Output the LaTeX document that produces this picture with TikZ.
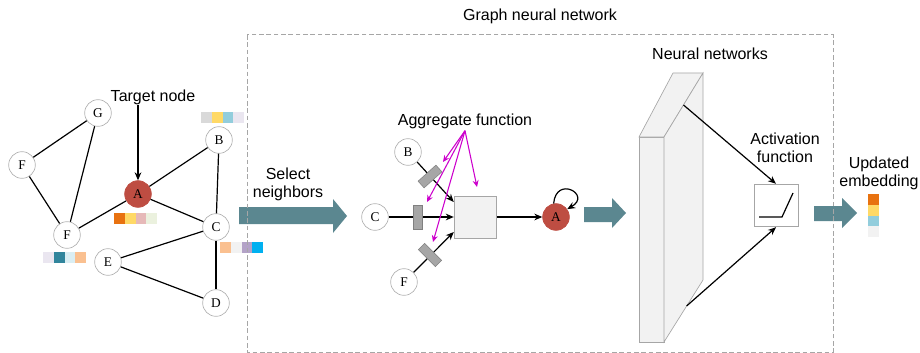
\documentclass[tikz,border=0pt]{standalone}
\usepackage{fontspec}
\setmainfont{Liberation Sans}
\newfontfamily\letterfont{Liberation Serif}
\usetikzlibrary{arrows.meta,calc}

\definecolor{nodered}{RGB}{190,77,66}
\definecolor{arrowteal}{RGB}{91,135,144}
\definecolor{aggmagenta}{RGB}{204,0,204}
\definecolor{blockgray}{RGB}{166,166,166}
\definecolor{paleface}{RGB}{242,242,242}
\definecolor{cellOrange}{RGB}{232,114,16}
\definecolor{cellYellow}{RGB}{255,217,102}
\definecolor{cellBlue}{RGB}{146,205,220}
\definecolor{cellGray}{RGB}{217,217,217}
\definecolor{cellLavender}{RGB}{234,230,240}
\definecolor{cellPink}{RGB}{230,185,184}
\definecolor{cellGreen}{RGB}{235,241,222}
\definecolor{cellTeal}{RGB}{49,133,156}
\definecolor{cellPaleBlue}{RGB}{218,238,243}
\definecolor{cellPeach}{RGB}{250,192,144}
\definecolor{cellOffWhite}{RGB}{242,242,242}
\definecolor{cellLilac}{RGB}{179,162,199}
\definecolor{cellSky}{RGB}{0,176,240}

\begin{document}
\begin{tikzpicture}[
        x=0.75pt, y=-0.75pt,
        >={Stealth[length=6pt,width=5pt]},
        graph_node/.style={
            circle,
            draw=gray!60,
            fill=white,
            line width=0.5pt,
            minimum size=20pt,
            inner sep=0pt,
            font=\letterfont\fontsize{10}{12}\selectfont
        },
        target_node/.style={graph_node, draw=nodered, fill=nodered},
        edge_line/.style={line width=0.9pt},
        flow_arrow/.style={->, line width=0.9pt},
        agg_arrow/.style={-{Stealth[length=5pt,width=4.5pt]}, aggmagenta, line width=0.8pt},
        weight_block/.style={
            rectangle,
            draw=gray,
            fill=blockgray,
            line width=0.4pt,
            minimum width=6.75pt,
            minimum height=18pt,
            inner sep=0pt
        },
        agg_box/.style={
            rectangle,
            draw=gray!70,
            fill=paleface,
            line width=0.6pt,
            minimum width=32pt,
            minimum height=31.5pt,
            inner sep=0pt
        },
        act_box/.style={agg_box, fill=white, minimum width=33pt, minimum height=32pt},
        slab_face/.style={draw=gray!70, fill=paleface, line width=0.5pt},
        fat_arrow/.style={fill=arrowteal},
        gnn_frame/.style={draw=gray!70, line width=0.75pt, dash pattern=on 3.5pt off 2pt},
        label_text/.style={font=\fontsize{12}{13.5}\selectfont, align=center, inner sep=0pt}
    ]

    \useasboundingbox (0,0) rectangle (920,353);

    % =================================================
    % INPUT GRAPH
    % =================================================

    \node[graph_node] (nG) at (98,113) {G};
    \node[graph_node] (nF1) at (22,165) {F};
    \node[target_node] (nA) at (138,194) {A};
    \node[graph_node] (nB) at (219,140) {B};
    \node[graph_node] (nF2) at (67,235) {F};
    \node[graph_node] (nC) at (216,227) {C};
    \node[graph_node] (nE) at (108,262) {E};
    \node[graph_node] (nD) at (216,303) {D};

    \draw[edge_line] (nG) -- (nF1);
    \draw[edge_line] (nG) -- (nF2);
    \draw[edge_line] (nF1) -- (nF2);
    \draw[edge_line] (nA) -- (nF2);
    \draw[edge_line] (nA) -- (nB);
    \draw[edge_line] (nA) -- (nC);
    \draw[edge_line] (nB) -- (nC);
    \draw[edge_line] (nC) -- (nE);
    \draw[edge_line] (nC) -- (nD);
    \draw[edge_line] (nE) -- (nD);

    \node[label_text] (target) at (153,97) {Target node};
    \draw[flow_arrow] (target.south -| nA) -- (nA);

    % Feature vectors
    \foreach \c [count=\i from 0] in {cellGray,cellYellow,cellBlue,cellLavender}
        \fill[\c] (201+10.75*\i,112) rectangle ++(10.75,11);
    \foreach \c [count=\i from 0] in {cellOrange,cellYellow,cellPink,cellGreen}
        \fill[\c] (114+10.75*\i,213) rectangle ++(10.75,10.5);
    \foreach \c [count=\i from 0] in {cellLavender,cellTeal,cellPaleBlue,cellPeach}
        \fill[\c] (43+10.75*\i,252) rectangle ++(10.75,10.5);
    \foreach \c [count=\i from 0] in {cellPeach,cellOffWhite,cellLilac,cellSky}
        \fill[\c] (220+10.75*\i,242) rectangle ++(10.75,10.5);

    % Select neighbors
    \fill[fat_arrow] (239,207) -- (333,207) -- (333,199) -- (347,216) -- (333,233) -- (333,224) -- (239,224) -- cycle;
    \node[label_text] (select) at (288,184) {Select\\neighbors};

    % =================================================
    % AGGREGATION
    % =================================================

    \node[graph_node] (nB2) at (408,152) {B};
    \node[graph_node] (nC2) at (375,217) {C};
    \node[graph_node] (nF3) at (404,282) {F};
    \node[agg_box] (agg) at (475.5,217) {};
    \node[target_node] (nA2) at (556,217) {A};

    \draw[flow_arrow] (nB2) -- ([yshift=11.25pt]agg.west);
    \draw[flow_arrow] (nC2) -- (agg.west);
    \draw[flow_arrow] (nF3) -- ([yshift=-11.25pt]agg.west);
    \draw[flow_arrow] (agg.east) -- (nA2);
    \draw[flow_arrow] (nA2.100) to[out=85,in=30,looseness=5] (nA2.35);

    \node[weight_block, rotate=-48] (blkB) at (430,176.5) {};
    \node[weight_block] (blkC) at (418,217) {};
    \node[weight_block, rotate=45] (blkF) at (430,255) {};

    \node[label_text] (aggfn) at (465,121) {Aggregate function};
    \coordinate (tipB) at (443,162);
    \coordinate (tipC) at (427,202);
    \coordinate (tipF) at (433,242);
    \coordinate (tipAgg) at (477,187);
    \draw[agg_arrow] ([yshift=-1.5pt]aggfn.south) -- (tipB);
    \draw[agg_arrow] ([yshift=-1.5pt]aggfn.south) -- (tipC);
    \draw[agg_arrow] ([yshift=-1.5pt]aggfn.south) -- (tipF);
    \draw[agg_arrow] ([yshift=-1.5pt]aggfn.south) -- (tipAgg);

    \fill[fat_arrow] (584,207) -- (612,207) -- (612,198) -- (626,213) -- (612,228) -- (612,222) -- (584,222) -- cycle;

    % =================================================
    % NEURAL NETWORK + ACTIVATION
    % =================================================

    \filldraw[slab_face] (639,137) rectangle (664,342);
    \filldraw[slab_face] (639,137) -- (673,73) -- (703,73) -- (664,137) -- cycle;
    \filldraw[slab_face] (664,137) -- (703,73) -- (703,280) -- (664,342) -- cycle;
    \coordinate (nnTop) at (683.5,105);
    \coordinate (nnBot) at (686.6,306);
    \node[label_text] (nnlabel) at (710,54) {Neural networks};

    \node[act_box] (act) at (776,205.5) {};
    \draw[line width=0.9pt] ($(act.center)+(-17,11.5)$) -- ++(23,0) -- ++(11,-24);
    \node[label_text] (actlabel) at (785,148) {Activation\\function};

    \draw[flow_arrow] (nnTop) -- (act.north);
    \draw[flow_arrow] (nnBot) -- (act.south);

    \fill[fat_arrow] (814,206) -- (842,206) -- (842,198) -- (857,213) -- (842,228) -- (842,221) -- (814,221) -- cycle;

    % =================================================
    % OUTPUT
    % =================================================

    \node[label_text] (updated) at (879,173) {Updated\\embedding};
    \foreach \c [count=\i from 0] in {cellOrange,cellYellow,cellBlue,cellOffWhite}
        \fill[\c] (868,194+10.75*\i) rectangle ++(11,10.75);

    % Frame
    \draw[gnn_frame] (247,35) rectangle (833,352);
    \node[label_text] (gnntitle) at (540,16) {Graph neural network};

\end{tikzpicture}
\end{document}
